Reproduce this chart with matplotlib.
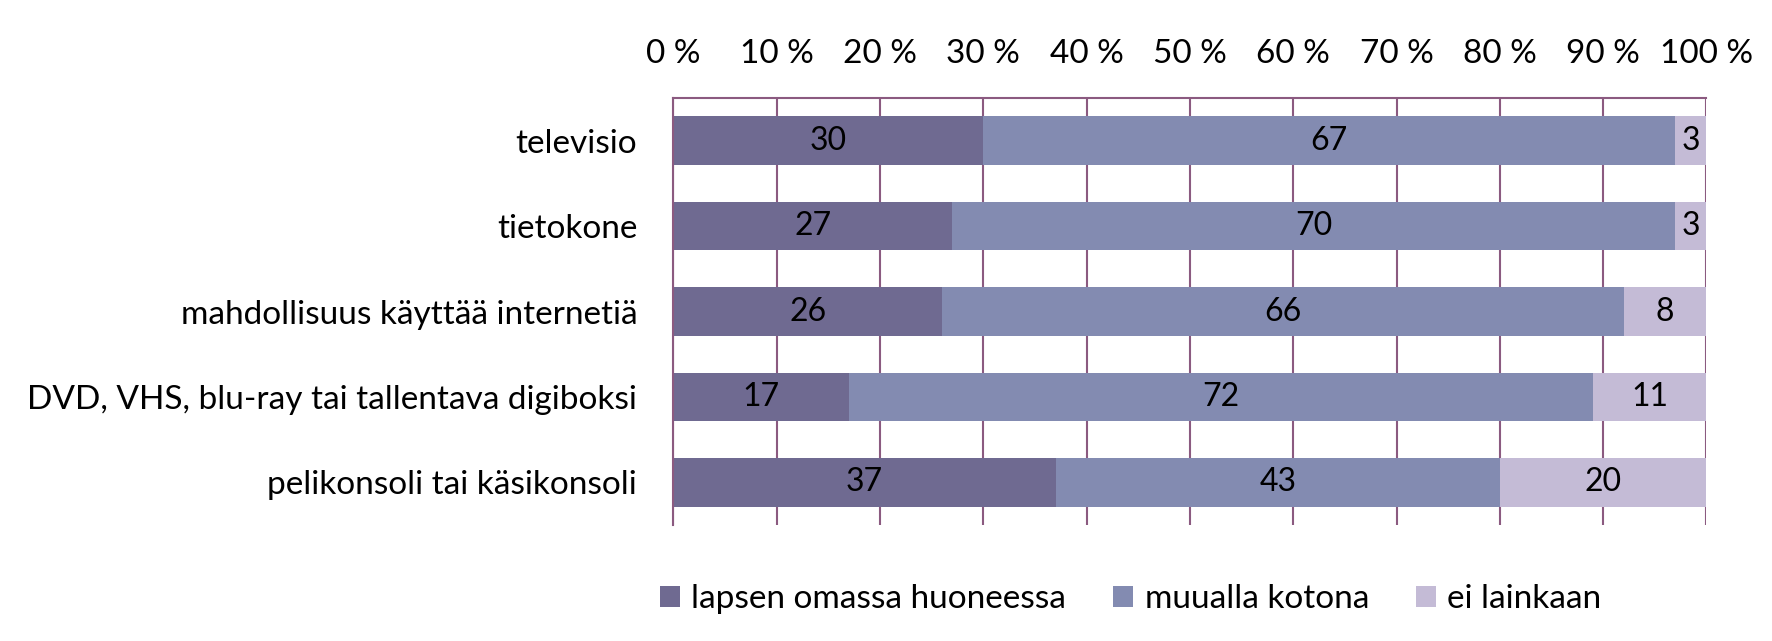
import matplotlib.pyplot as plt
import numpy as np

plt.rcParams['font.family'] = ['Lato', 'DejaVu Sans']

# Data
categories = ["televisio", "tietokone", "mahdollisuus käyttää internetiä",
              "DVD, VHS, blu-ray tai tallentava digiboksi", "pelikonsoli tai käsikonsoli"]
series_names = ["lapsen omassa huoneessa", "muualla kotona", "ei lainkaan"]
own_room = [30, 27, 26, 17, 37]
elsewhere = [67, 70, 66, 72, 43]
not_at_all = [3, 3, 8, 11, 20]
x_ticks = [0, 10, 20, 30, 40, 50, 60, 70, 80, 90, 100]

colors = ["#6f6a91", "#838bb1", "#c4bbd6"]
grid_color = "#8b5a80"

fig = plt.figure(figsize=(17.72, 6.41), dpi=100)
ax = fig.add_axes([0.380, 0.181, 0.583, 0.666])

y = np.arange(len(categories))
left = np.zeros(len(categories))
for vals, name, col in zip([own_room, elsewhere, not_at_all], series_names, colors):
    vals = np.array(vals, dtype=float)
    ax.barh(y, vals, left=left, height=0.57, color=col, label=name, zorder=2)
    for yi, l, v in zip(y, left, vals):
        ax.text(l + v / 2, yi, f"{int(v)}", ha="center", va="center", fontsize=23, color="black", zorder=3)
    left += vals

ax.set_xlim(0, 100)
ax.set_ylim(len(categories) - 0.5, -0.5)
ax.set_xticks(x_ticks)
ax.set_xticklabels([f"{t} %" for t in x_ticks])
ax.xaxis.tick_top()
ax.set_yticks(y)
ax.set_yticklabels(categories)
ax.tick_params(axis="x", length=0, pad=21, labelsize=24)
ax.tick_params(axis="y", length=0, pad=26, labelsize=24)
ax.grid(axis="x", color=grid_color, linewidth=1.5, zorder=1)
ax.set_axisbelow(True)
for s in ["right", "bottom"]:
    ax.spines[s].set_visible(False)
for s in ["top", "left"]:
    ax.spines[s].set_color(grid_color)
    ax.spines[s].set_linewidth(1.5)

fig.legend(loc="center", bbox_to_anchor=(0.638, 0.065), ncol=3, frameon=False,
           fontsize=24, handlelength=0.6, handleheight=0.6, handletextpad=0.35,
           columnspacing=1.4)

fig.savefig("out.png", dpi=100)
